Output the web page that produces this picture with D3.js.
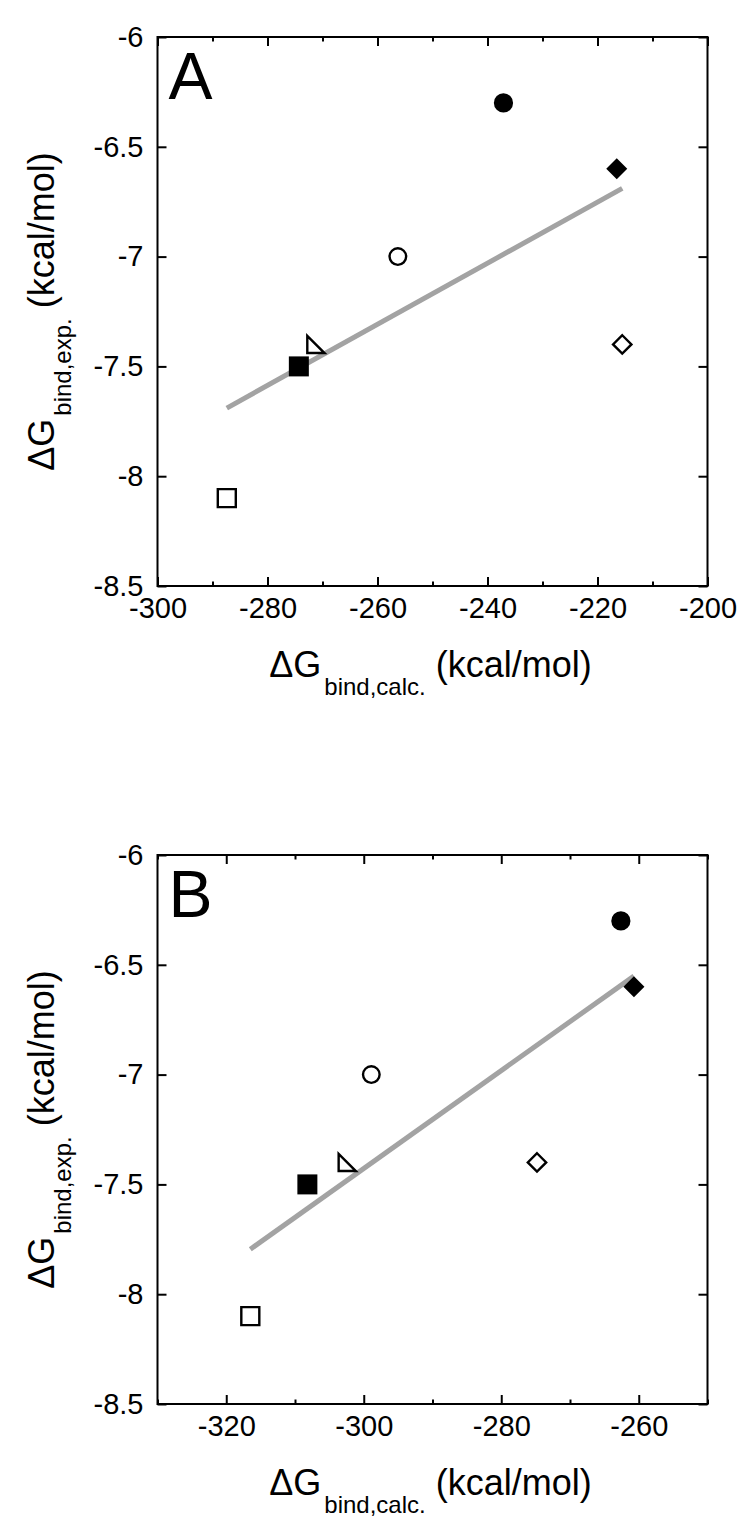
<!DOCTYPE html>
<html>
<head>
<meta charset="utf-8">
<script src="https://cdn.jsdelivr.net/npm/d3@7/dist/d3.min.js"></script>
<style>
  html, body { margin: 0; padding: 0; background: #fff; }
  svg { display: block; }
  text { font-family: "Liberation Sans", Arial, sans-serif; fill: #000; }
</style>
</head>
<body>
<svg id="chart" width="751" height="1532"></svg>
<script>
// ---------------- data ----------------
const markerShapes = ["openSquare", "filledSquare", "openTriangle", "openCircle", "filledCircle", "filledDiamond", "openDiamond"];
const expValues    = [-8.1, -7.5, -7.4, -7.0, -6.3, -6.6, -7.4];
const calcValuesA  = [-287.4, -274.3, -271.2, -256.3, -237.1, -216.5, -215.5];
const calcValuesB  = [-316.5, -308.2, -302.4, -298.9, -262.6, -260.7, -274.8];

const panelLetters = ["A", "B"];
const xDomainA = [-300, -200];
const xDomainB = [-330, -250];
const yDomain  = [-8.5, -6];
const xMajorA  = [-300, -280, -260, -240, -220, -200];
const xMinorA  = [-290, -270, -250, -230, -210];
const xMajorB  = [-320, -300, -280, -260];
const xMinorB  = [-330, -310, -290, -270, -250];
const yMajor   = [-8.5, -8, -7.5, -7, -6.5, -6];

// ---------------- layout ----------------
const svg = d3.select("#chart");
const W = 550, H = 549;
const panels = [
  { letter: panelLetters[0], left: 157.5, top: 37,  xDomain: xDomainA, xs: calcValuesA, major: xMajorA, minor: xMinorA },
  { letter: panelLetters[1], left: 157.5, top: 855, xDomain: xDomainB, xs: calcValuesB, major: xMajorB, minor: xMinorB }
];

const fmt = d => String(d).replace("\u2212", "-");

function markerPath(shape) {
  switch (shape) {
    case "openSquare":   return d3.symbol(d3.symbolSquare, 18 * 18)();
    case "filledSquare": return d3.symbol(d3.symbolSquare, 20 * 20)();
    case "openCircle":   return d3.symbol(d3.symbolCircle, Math.PI * 8.3 * 8.3)();
    case "filledCircle": return d3.symbol(d3.symbolCircle, Math.PI * 9.6 * 9.6)();
    case "filledDiamond": { const p = d3.path(); const r = 10.5; p.moveTo(0, -r); p.lineTo(r, 0); p.lineTo(0, r); p.lineTo(-r, 0); p.closePath(); return p.toString(); }
    case "openDiamond":   { const p = d3.path(); const r = 9.2;  p.moveTo(0, -r); p.lineTo(r, 0); p.lineTo(0, r); p.lineTo(-r, 0); p.closePath(); return p.toString(); }
    case "openTriangle":  { const p = d3.path(); const a = 8.6; p.moveTo(-a, -a); p.lineTo(-a, a); p.lineTo(a, a); p.closePath(); return p.toString(); }
  }
}
const isFilled = s => s.startsWith("filled");

panels.forEach(pn => {
  const g = svg.append("g").attr("transform", `translate(${pn.left},${pn.top})`);
  const x = d3.scaleLinear().domain(pn.xDomain).range([0, W]);
  const y = d3.scaleLinear().domain(yDomain).range([H, 0]);

  const style = sel => {
    sel.select(".domain").remove();
    sel.selectAll("line").attr("stroke", "#000").attr("stroke-width", 2);
    sel.selectAll("text").attr("font-size", 29).attr("font-family", '"Liberation Sans", Arial, sans-serif');
  };

  // bottom
  g.append("g").attr("transform", `translate(0,${H})`)
    .call(d3.axisBottom(x).tickValues(pn.major).tickSize(-9).tickPadding(11).tickFormat(fmt)).call(style);
  g.append("g").attr("transform", `translate(0,${H})`)
    .call(d3.axisBottom(x).tickValues(pn.minor).tickSize(-4.5).tickFormat("")).call(style);
  // top
  g.append("g").call(d3.axisTop(x).tickValues(pn.major).tickSize(-9).tickFormat("")).call(style);
  g.append("g").call(d3.axisTop(x).tickValues(pn.minor).tickSize(-4.5).tickFormat("")).call(style);
  // left
  g.append("g").call(d3.axisLeft(y).tickValues(yMajor).tickSize(-9).tickPadding(14).tickFormat(fmt)).call(style);
  // right
  g.append("g").attr("transform", `translate(${W},0)`)
    .call(d3.axisRight(y).tickValues(yMajor).tickSize(-9).tickFormat("")).call(style);

  // frame
  g.append("rect").attr("x", 0).attr("y", 0).attr("width", W).attr("height", H)
    .attr("fill", "none").attr("stroke", "#000").attr("stroke-width", 2);

  // regression line over the data range
  const pts = pn.xs.map((v, i) => ({ x: v, y: expValues[i], shape: markerShapes[i] }));
  const mx = d3.mean(pts, d => d.x), my = d3.mean(pts, d => d.y);
  const sxy = d3.sum(pts, d => (d.x - mx) * (d.y - my));
  const sxx = d3.sum(pts, d => (d.x - mx) * (d.x - mx));
  const slope = sxy / sxx, icpt = my - slope * mx;
  const [x0, x1] = d3.extent(pts, d => d.x);
  const fitLine = [{ x: x0, y: icpt + slope * x0 }, { x: x1, y: icpt + slope * x1 }];
  g.append("path").datum(fitLine)
    .attr("d", d3.line().x(d => x(d.x)).y(d => y(d.y)))
    .attr("fill", "none").attr("stroke", "#a3a3a3").attr("stroke-width", 5);

  // markers
  g.selectAll(".pt").data(pts).join("path")
    .attr("class", "pt")
    .attr("transform", d => `translate(${x(d.x)},${y(d.y)})`)
    .attr("d", d => markerPath(d.shape))
    .attr("fill", d => isFilled(d.shape) ? "#000" : "#fff")
    .attr("stroke", "#000")
    .attr("stroke-width", d => isFilled(d.shape) ? 0 : 2.4)
    .attr("stroke-linejoin", "miter");

  // panel letter
  g.append("text").attr("x", 11).attr("y", 62).attr("font-size", 66).text(pn.letter);

  // x title
  const xt = g.append("text").attr("x", W / 2 - 2).attr("y", H + 91)
    .attr("text-anchor", "middle").attr("font-size", 36);
  xt.append("tspan").text("\u0394G");
  xt.append("tspan").attr("dy", 18).attr("font-size", 24).attr("dx", 3).text("bind,calc.");
  xt.append("tspan").attr("dy", -18).text(" (kcal/mol)");

  // y title
  const yt = g.append("text")
    .attr("transform", `translate(${54 - pn.left},${H / 2}) rotate(-90)`)
    .attr("text-anchor", "middle").attr("font-size", 36);
  yt.append("tspan").text("\u0394G");
  yt.append("tspan").attr("dy", 17).attr("font-size", 24).attr("dx", 3).text("bind,exp.");
  yt.append("tspan").attr("dy", -17).text(" (kcal/mol)");
});
</script>
</body>
</html>
